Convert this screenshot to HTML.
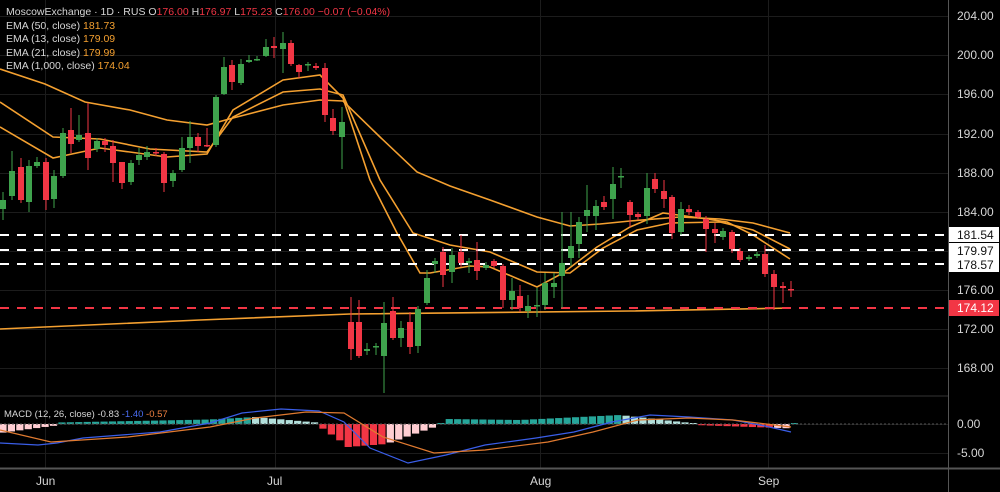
<!DOCTYPE html>
<html><head><meta charset="utf-8"><style>
html,body{margin:0;padding:0;background:#000;width:1000px;height:492px;overflow:hidden;font-family:"Liberation Sans",sans-serif}
#c{position:absolute;left:0;top:0}
.t{position:absolute;white-space:nowrap;color:#d6d6d6}
</style></head><body>
<svg id="c" width="1000" height="492" xmlns="http://www.w3.org/2000/svg">
<g id="grid" stroke="#1c1c1c" stroke-width="1"></g>
<g id="ema" fill="none" stroke="#f4a030" stroke-width="1.6"></g>
<g id="hl"></g>
<g id="cand"></g>
<g id="hist"></g>
<g id="macd" fill="none" stroke-width="1.2"></g>
<line x1="948.5" y1="0" x2="948.5" y2="492" stroke="#555" stroke-width="1"/>
<line x1="0" y1="468.5" x2="1000" y2="468.5" stroke="#555" stroke-width="2"/>
<line x1="0" y1="396" x2="948" y2="396" stroke="#333" stroke-width="1"/>
<g font-family="Liberation Sans, sans-serif" font-size="12" fill="#d6d6d6">
<text x="957" y="20">204.00</text>
<text x="957" y="59">200.00</text>
<text x="957" y="98">196.00</text>
<text x="957" y="138">192.00</text>
<text x="957" y="177">188.00</text>
<text x="957" y="216">184.00</text>
<text x="957" y="294">176.00</text>
<text x="957" y="333">172.00</text>
<text x="957" y="372">168.00</text>
<rect x="949" y="227" width="50" height="15" fill="#fff"/>
<rect x="949" y="243" width="50" height="15" fill="#fff"/>
<rect x="949" y="257" width="50" height="15" fill="#fff"/>
<text x="957" y="239" fill="#111">181.54</text>
<text x="957" y="255" fill="#111">179.97</text>
<text x="957" y="269" fill="#111">178.57</text>
<rect x="949" y="300" width="50" height="16" fill="#f23645"/>
<text x="957" y="312" fill="#fff">174.12</text>
<text x="957" y="428">0.00</text>
<text x="957" y="457">-5.00</text>
<text x="36" y="485">Jun</text>
<text x="267" y="485">Jul</text>
<text x="530" y="485">Aug</text>
<text x="758" y="485">Sep</text>
</g>
<g font-family="Liberation Sans, sans-serif" font-size="10.5" fill="#d6d6d6">
<text x="6" y="15">MoscowExchange · 1D · RUS <tspan>O</tspan><tspan fill="#f23645">176.00</tspan> H<tspan fill="#f23645">176.97</tspan> L<tspan fill="#f23645">175.23</tspan> C<tspan fill="#f23645">176.00</tspan> <tspan fill="#f23645">−0.07 (−0.04%)</tspan></text>
<text x="6" y="29">EMA (50, close) <tspan fill="#f4a030">181.73</tspan></text>
<text x="6" y="42">EMA (13, close) <tspan fill="#f4a030">179.09</tspan></text>
<text x="6" y="56">EMA (21, close) <tspan fill="#f4a030">179.99</tspan></text>
<text x="6" y="69">EMA (1,000, close) <tspan fill="#f4a030">174.04</tspan></text>
<text x="4" y="417" font-size="9.5">MACD (12, 26, close) <tspan>-0.83</tspan> <tspan fill="#4a6cf0">-1.40</tspan> <tspan fill="#f08040">-0.57</tspan></text>
</g>
</svg>
<script>
var NS="http://www.w3.org/2000/svg";
function el(p,t,a){var e=document.createElementNS(NS,t);for(var k in a)e.setAttribute(k,a[k]);document.getElementById(p).appendChild(e);return e;}
[16,55,94,134,173,212,251,290,329,368,424,453].forEach(function(y){el("grid","line",{x1:0,x2:948,y1:y+.5,y2:y+.5});});
[45,275,540,768].forEach(function(x){el("grid","line",{x1:x+.5,x2:x+.5,y1:0,y2:468});});
function pl(g,pts,a){a.points=pts.map(function(p){return p.join(",")}).join(" ");return el(g,"polyline",a);}
pl("ema",[[0,69],[45,84],[85,102],[130,110],[167,120],[207,125],[233,118],[283,105],[320,100],[343,101],[380,137],[417,172],[450,186],[490,200],[537,217],[570,226],[600,224],[630,221],[680,217],[720,219],[753,223],[790,233]],{});
pl("ema",[[0,102],[53,137],[100,139],[150,149],[207,152],[233,117],[283,92],[320,89],[343,95],[380,180],[413,233],[450,245],[490,252],[537,272],[570,273],[603,248],[637,230],[670,223],[720,222],[753,230],[790,249]],{});
pl("ema",[[0,127],[53,158],[100,148],[167,157],[207,154],[233,110],[283,80],[320,75],[343,98],[370,180],[397,233],[420,273],[430,273],[470,266],[490,267],[537,287],[563,273],[597,247],[630,227],[663,213],[693,217],[727,222],[753,235],[790,259]],{});
pl("ema",[[0,329],[200,320],[350,314],[630,311],[791,308]],{});
[[235,"#fff"],[250,"#fff"],[264,"#fff"],[308,"#f23645"]].forEach(function(h){el("hl","line",{x1:0,x2:948,y1:h[0],y2:h[0],stroke:h[1],"stroke-width":2,"stroke-dasharray":"9,8"});});
// x, open_y, close_y, high_y, low_y  (green if close above open)
var C=[[3,209,200,192,220],[12,196,171,151,200],[21,167,200,158,203],[29,202,166,160,212],[37,166,162,157,168],[46,162,200,158,210],[54,199,176,170,208],[63,176,133,128,178],[71,130,144,108,153],[79,140,135,115,142],[88,133,158,103,170],[97,149,141,138,152],[105,141,145,138,152],[113,146,163,140,182],[122,162,183,162,189],[131,182,163,160,185],[139,160,155,148,165],[147,157,152,146,160],[156,152,153,148,156],[164,154,183,152,192],[173,181,173,170,187],[182,170,148,137,172],[190,148,137,121,163],[198,137,146,133,152],[207,145,146,128,147],[216,145,97,95,147],[224,94,67,57,95],[232,65,82,60,90],[241,83,64,59,85],[249,62,60,55,63],[257,60,59,56,61],[266,56,47,39,57],[274,46,48,37,58],[283,49,43,32,73],[291,43,64,40,66],[299,65,72,64,78],[308,65,64,62,71],[316,66,68,63,70],[325,68,115,63,122],[333,118,131,109,135],[342,137,122,107,169],[351,322,349,297,360],[359,322,356,300,358],[367,351,349,343,355],[376,347,346,343,355],[384,356,323,302,393],[393,311,338,297,340],[401,338,328,321,347],[410,322,347,312,354],[418,346,309,306,353],[427,303,278,270,305],[435,264,261,258,273],[443,252,275,247,287],[452,272,255,248,283],[461,252,263,235,267],[469,263,261,258,273],[477,260,271,242,280],[486,268,265,262,270],[494,261,266,259,268],[503,266,300,264,308],[512,300,291,278,310],[520,296,308,285,312],[528,311,306,295,318],[537,306,305,288,317],[545,305,283,273,310],[554,287,283,273,298],[562,276,263,212,308],[571,258,246,212,266],[579,244,222,217,258],[587,216,210,185,232],[596,216,206,200,230],[604,202,207,196,210],[613,199,184,167,219],[621,177,176,168,188],[630,202,215,200,227],[638,214,217,212,220],[647,216,188,173,224],[655,179,189,173,193],[664,191,199,180,208],[672,197,233,195,239],[681,232,209,202,235],[689,209,212,205,215],[698,212,217,210,219],[706,219,229,216,252],[715,229,233,223,243],[723,237,231,228,240],[732,232,249,230,253],[740,251,260,248,262],[749,259,257,255,261],[757,256,254,252,258],[765,254,274,245,277],[774,274,287,270,310],[783,286,288,282,303],[791,289,289.8,281,297]];
C.forEach(function(c){var g=c[2]<c[1];var col=g?"#3fa34d":"#f23645";
el("cand","line",{x1:c[0],x2:c[0],y1:c[3],y2:c[4],stroke:col,"stroke-width":1});
var t=Math.min(c[1],c[2]),h=Math.max(1.5,Math.abs(c[2]-c[1]));
el("cand","rect",{x:c[0]-3,y:t,width:6,height:h,fill:col});});
// histogram: value function (px above zero positive)
function hv(x){
 if(x<57) return -9+9*(x/57)*0.85;
 if(x<210) return 1.5+3*((x-57)/153);
 if(x<255) return 4.5+2.5*((x-210)/45);
 if(x<322) return 7-6*((x-255)/67);
 if(x<348) return -4-18*((x-322)/26);
 if(x<386) return -23+3*((x-348)/38);
 if(x<440) return -20+19*((x-386)/54);
 if(x<446) return 1;
 if(x<520) return 5-1*((x-446)/74);
 if(x<620) return 4+5*((x-520)/100);
 if(x<695) return 9-8.5*((x-620)/75);
 if(x<794) return -1-3.5*((x-695)/99);
 return 0;}
for(var x=3;x<=795;x+=8.42){var v=hv(x);var col;
 if(v>=0){col=(x>255&&x<322)||(x>625&&x<695)?"#b2dfdb":"#26a69a";}
 else{col=(x>386&&x<440)||x<57||x>770?"#ffcdd2":"#f23645";}
 var h=Math.max(1,Math.abs(v));
 el("hist","rect",{x:x-3.6,y:v>=0?424-h:424,width:7.2,height:h,fill:col});}
el("hist","line",{x1:0,x2:948,y1:424,y2:424,stroke:"#555","stroke-dasharray":"2,2"});
pl("macd",[[0,443],[38,445],[57,443],[83,438],[160,432],[210,423],[242,413],[281,409],[319,411],[344,422],[370,448],[408,463],[446,455],[485,445],[536,438],[574,432],[612,422],[650,415],[689,417],[733,420],[765,426],[791,432]],{stroke:"#3a5ee8"});
pl("macd",[[0,430],[51,442],[128,437],[210,427],[255,418],[306,412],[344,413],[383,437],[434,453],[485,450],[548,442],[593,432],[638,420],[689,418],[733,420],[791,427]],{stroke:"#e07a30"});
</script>
</body></html>
